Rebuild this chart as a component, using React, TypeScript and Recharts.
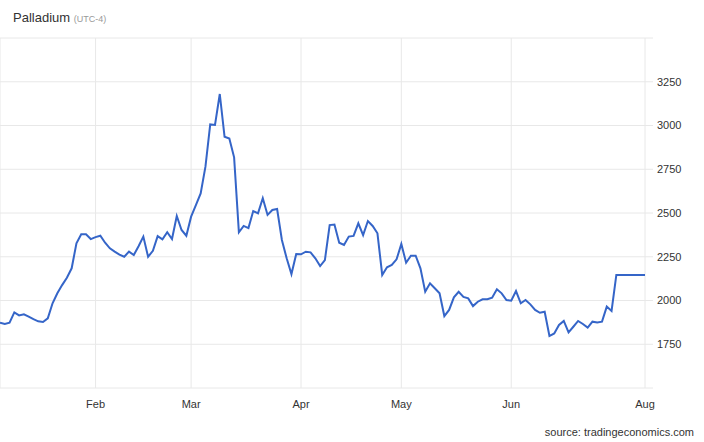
import { LineChart, Line, XAxis, YAxis, CartesianGrid } from "recharts";

// palladium close, one value per trading session
const PRICES = [
  1873, 1866, 1873, 1932, 1915, 1921, 1908, 1893, 1881, 1877,
  1898, 1984, 2041, 2088, 2130, 2184, 2327, 2378, 2378, 2351,
  2362, 2370, 2330, 2298, 2279, 2262, 2250, 2279, 2260, 2310,
  2365, 2250, 2284, 2368, 2350, 2390, 2351, 2483, 2403, 2370,
  2479, 2545, 2612, 2765, 3006, 3003, 3180, 2936, 2926, 2818,
  2390, 2426, 2414, 2511, 2498, 2584, 2489, 2517, 2523, 2346,
  2241, 2151, 2266, 2264, 2279, 2275, 2241, 2197, 2231, 2431,
  2434, 2330, 2317, 2365, 2369, 2441, 2374, 2454, 2426, 2384,
  2146, 2190, 2203, 2235, 2323, 2216, 2256, 2256, 2184, 2050,
  2098, 2070, 2041, 1911, 1946, 2018, 2050, 2021, 2012, 1968,
  1993, 2007, 2007, 2016, 2064, 2041, 2003, 1999, 2054, 1984,
  2003, 1978, 1946, 1930, 1936, 1797, 1812, 1860, 1883, 1818,
  1850, 1883, 1866, 1845, 1879, 1875, 1879, 1965, 1940, 2146,
  2146, 2146, 2146, 2146, 2146, 2146,
];

const MONTH_TICKS = [20, 40, 63, 84, 107, 135];
const MONTH_LABELS = ["Feb", "Mar", "Apr", "May", "Jun", "Aug"];
const PRICE_TICKS = [1500, 1750, 2000, 2250, 2500, 2750, 3000, 3250, 3500];

const data = PRICES.map((p, i) => ({ i, price: p }));

const FONT = "'Liberation Sans', Arial, sans-serif";

export default function App() {
  return (
    <div style={{ position: "absolute", left: 0, top: 0, width: 704, height: 442, background: "#fff", fontFamily: FONT }}>
      <div style={{ position: "absolute", left: 13, top: 10, fontSize: 13, color: "#333", whiteSpace: "nowrap" }}>
        Palladium <span style={{ fontSize: 9, color: "#999" }}>(UTC-4)</span>
      </div>
      <LineChart width={704} height={442} data={data} margin={{ top: 38, right: 0, bottom: 24, left: 0 }}>
        <CartesianGrid stroke="#e8e8e8" />
        <XAxis
          dataKey="i"
          type="number"
          domain={[0, PRICES.length - 1]}
          ticks={MONTH_TICKS}
          tickFormatter={(v) => MONTH_LABELS[MONTH_TICKS.indexOf(v)] ?? ""}
          axisLine={false}
          tickLine={false}
          tickSize={8}
          tickMargin={4}
          height={30}
          tick={{ fontSize: 11, fill: "#333", fontFamily: FONT }}
          interval={0}
        />
        <YAxis
          orientation="right"
          domain={[1500, 3500]}
          ticks={PRICE_TICKS}
          tickFormatter={(v) => (v === 1500 || v === 3500 ? "" : String(v))}
          axisLine={false}
          tickLine={{ stroke: "#e8e8e8" }}
          tickSize={8}
          tickMargin={4}
          width={59}
          tick={{ fontSize: 11, fill: "#333", fontFamily: FONT, textAnchor: "start" }}
          interval={0}
        />
        <Line type="linear" dataKey="price" stroke="#3565c8" strokeWidth={2} dot={false} isAnimationActive={false} />
      </LineChart>
      <div style={{ position: "absolute", right: 10, top: 426, fontSize: 11, color: "#333" }}>
        source: tradingeconomics.com
      </div>
    </div>
  );
}
